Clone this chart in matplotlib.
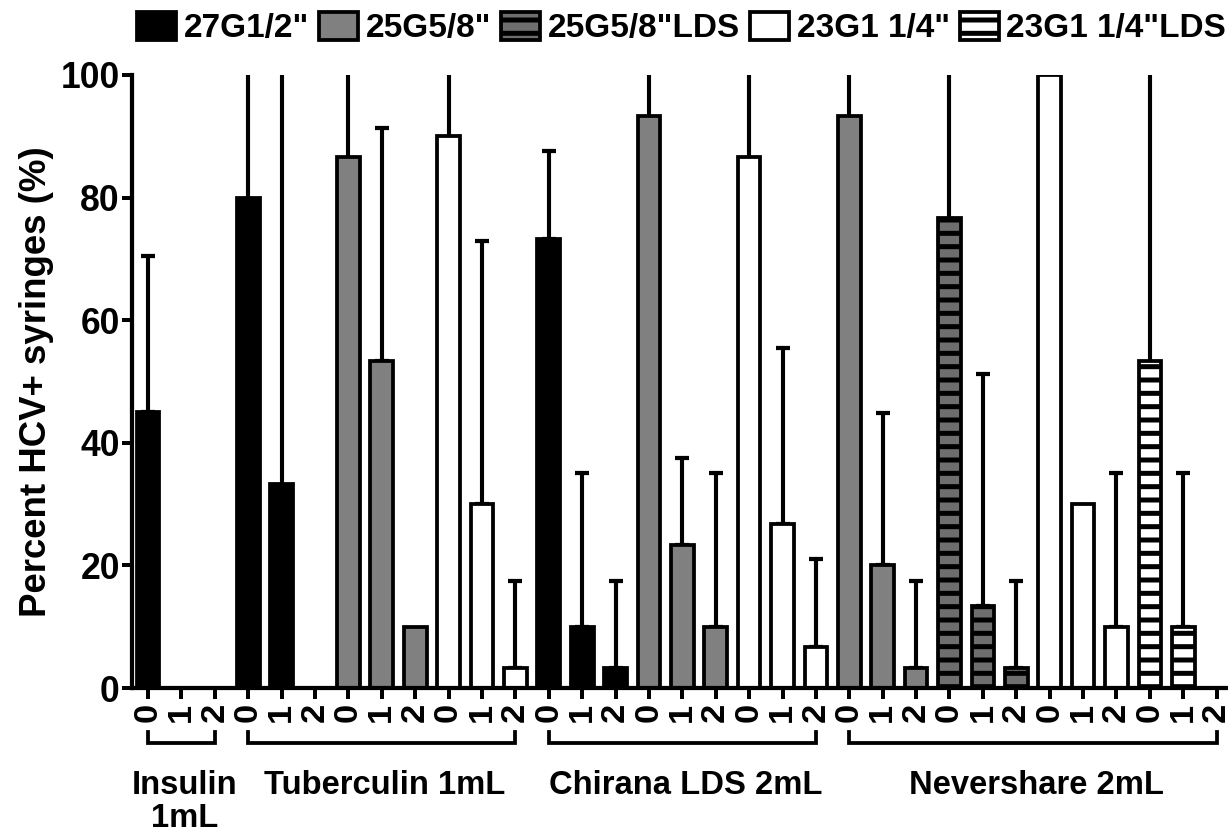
import numpy as np
import matplotlib
matplotlib.use('Agg')
import matplotlib.pyplot as plt

# data (percent HCV+ syringes, upper CI bound)
groups = ['Insulin\n1mL', 'Tuberculin 1mL', 'Chirana LDS 2mL', 'Nevershare 2mL']
group_series = [
    ['27G'],
    ['27G', '25G', '23G'],
    ['27G', '25G', '23G'],
    ['25G', '25G LDS', '23G', '23G LDS'],
]
doses = ['0', '1', '2']
pct = [45, 0, 0,
       80, 33.3, 0, 86.7, 53.3, 10, 90, 30, 3.3,
       73.3, 10, 3.3, 93.3, 23.3, 10, 86.7, 26.7, 6.7,
       93.3, 20, 3.3, 76.7, 13.3, 3.3, 100, 30, 10, 53.3, 10, 0]
upper = [70.5, np.nan, np.nan,
         100, 100, np.nan, 100, 91.3, np.nan, 100, 73, 17.5,
         87.6, 35, 17.5, 100, 37.6, 35, 100, 55.4, 21,
         100, 44.8, 17.5, 100, 51.2, 17.5, np.nan, np.nan, 35, 100, 35, np.nan]

series_labels = {'27G': '27G1/2"', '25G': '25G5/8"', '25G LDS': '25G5/8"LDS',
                 '23G': '23G1 1/4"', '23G LDS': '23G1 1/4"LDS'}
series_order = ['27G', '25G', '25G LDS', '23G', '23G LDS']
styles = {'27G': dict(color='black', hatch=None),
          '25G': dict(color='#808080', hatch=None),
          '25G LDS': dict(color='#6e6e6e', hatch='-'),
          '23G': dict(color='white', hatch=None),
          '23G LDS': dict(color='white', hatch='-')}

plt.rcParams['font.family'] = ['Liberation Sans', 'DejaVu Sans']
plt.rcParams['font.weight'] = 'bold'
plt.rcParams['hatch.linewidth'] = 4.5
plt.rcParams['hatch.color'] = 'black'

fig = plt.figure(figsize=(1228 / 80, 835 / 80), dpi=80)
ax = fig.add_axes([132 / 1228, 1 - 688 / 835, 1094 / 1228, 613 / 835])

# expand series per position
bar_series = []
for ss in group_series:
    for s in ss:
        bar_series += [s] * len(doses)
x = np.arange(len(pct))
pct = np.array(pct, dtype=float)
upper = np.array(upper, dtype=float)
bar_series = np.array(bar_series)

handles = {}
for s in series_order:
    m = bar_series == s
    st = styles[s]
    b = ax.bar(x[m], pct[m], width=0.68, color=st['color'], edgecolor='black',
               linewidth=3.4, hatch=st['hatch'], zorder=2, label=series_labels[s])
    handles[s] = b

# error bars (upper only); no cap where the bound reaches 100
err = upper - pct
capped = ~np.isnan(upper) & (upper < 100)
open_top = ~np.isnan(upper) & (upper >= 100)
ax.errorbar(x[capped], pct[capped], yerr=[np.zeros(capped.sum()), err[capped]],
            fmt='none', ecolor='black', elinewidth=3.7, capsize=6.5, capthick=3.8, zorder=1)
ax.errorbar(x[open_top], pct[open_top], yerr=[np.zeros(open_top.sum()), err[open_top]],
            fmt='none', ecolor='black', elinewidth=3.7, capsize=0, zorder=1)

ax.set_ylim(0, 100)
ax.set_xlim(-0.48, 32.28)
ax.set_yticks([0, 20, 40, 60, 80, 100])
ax.set_xticks(x)
ax.set_xticklabels(doses * (len(x) // 3), rotation=90)
ax.tick_params(axis='y', labelsize=32, length=9, width=3.6, pad=2)
ax.tick_params(axis='x', labelsize=31, length=10, width=3.6, pad=3)
for sp in ['top', 'right']:
    ax.spines[sp].set_visible(False)
for sp in ['left', 'bottom']:
    ax.spines[sp].set_linewidth(3.8)
    ax.spines[sp].set_zorder(3)
ax.set_ylabel('Percent HCV+ syringes (%)', fontsize=33, fontweight='bold', labelpad=6)

# group brackets and names
trans = ax.get_xaxis_transform()
start = 0
for name, ss in zip(groups, group_series):
    n = len(ss) * len(doses)
    x0, x1 = start, start + n - 1
    ax.plot([x0, x0, x1, x1], [-0.072, -0.09, -0.09, -0.072], color='black', lw=3.4,
            transform=trans, clip_on=False, solid_joinstyle='miter')
    ax.text((x0 + x1) / 2 + 0.1, -0.133, name, transform=trans, ha='center', va='top',
            fontsize=29.5, fontweight='bold', linespacing=1.12, multialignment='center')
    start += n

fig.legend([handles[s] for s in series_order], [series_labels[s] for s in series_order],
           loc='center', bbox_to_anchor=((137 + 1226) / 2 / 1228, 1 - 28 / 835), ncol=5,
           frameon=False, fontsize=30, handlelength=1.18, handleheight=0.95,
           handletextpad=0.22, columnspacing=0.3, borderpad=0, borderaxespad=0)

fig.savefig('out.png', dpi=80)
